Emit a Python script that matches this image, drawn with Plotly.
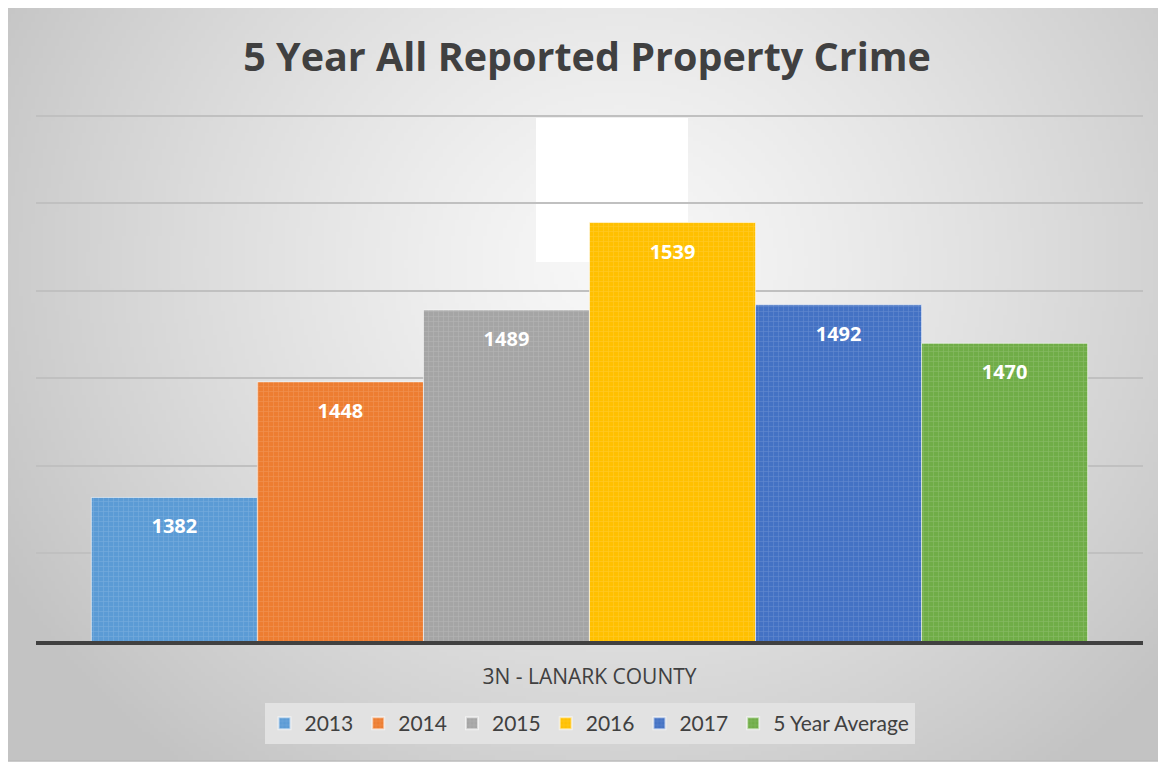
import base64
import struct
import zlib

import numpy as np
import plotly.graph_objects as go

# ---------------- data ----------------
category = ["3N - LANARK COUNTY"]
series_names = ["2013", "2014", "2015", "2016", "2017", "5 Year Average"]
series_values = [1382, 1448, 1489, 1539, 1492, 1470]
series_colors = ["#5B9BD5", "#ED7D31", "#A5A5A5", "#FFC000", "#4472C4", "#70AD47"]
title_text = "5 Year All Reported Property Crime"
y_range = [1300, 1601]
y_dtick = 50


# ---------------- background gradient image (style only) ----------------
def gradient_png(w, h):
    X = np.linspace(0, 1166, w)[None, :]
    Y = np.linspace(0, 763, h)[:, None]
    dx = (X - 620) / 720.0
    dy = (Y - 260) / 660.0
    d = np.clip(np.sqrt(dx ** 2 + dy ** 2), 0, 1)
    v = 248 - (248 - 195) * d ** 1.25
    v = np.clip(v, 0, 255).astype(np.uint8)
    rgb = np.stack([v, v, v], axis=-1)
    raw = b"".join(b"\x00" + rgb[r].tobytes() for r in range(h))

    def chunk(tag, data):
        c = struct.pack(">I", len(data)) + tag + data
        return c + struct.pack(">I", zlib.crc32(tag + data) & 0xFFFFFFFF)

    png = b"\x89PNG\r\n\x1a\n"
    png += chunk(b"IHDR", struct.pack(">IIBBBBB", w, h, 8, 2, 0, 0, 0))
    png += chunk(b"IDAT", zlib.compress(raw, 9))
    png += chunk(b"IEND", b"")
    return "data:image/png;base64," + base64.b64encode(png).decode()


fig = go.Figure()
for name, val, col in zip(series_names, series_values, series_colors):
    fig.add_trace(
        go.Bar(
            name=name,
            x=category,
            y=[val],
            marker=dict(
                color=col,
                line=dict(color="rgba(255,255,255,0.55)", width=1),
                pattern=dict(
                    shape="+",
                    size=5,
                    solidity=0.25,
                    fgcolor="rgba(255,255,255,0.3)",
                    fillmode="overlay",
                ),
            ),
            text=[val],
            texttemplate="<span style='font-size:7px;color:rgba(0,0,0,0)'>.</span><br>%{text}",
            textposition="inside",
            insidetextanchor="end",
            textangle=0,
            insidetextfont=dict(family="Open Sans", size=20, color="white", weight="bold"),
            hoverinfo="name+y",
        )
    )

# page body has an 8px margin: figure coords = reference coords - 8
OFF = 8
W, H = 1166 - OFF, 763 - OFF
# plot area in reference pixels
PX0, PX1, PY0, PY1 = 36, 1143, 114, 641
L, T = PX0 - OFF, PY0 - OFF
R = W - (PX1 - OFF)
B = H - (PY1 - OFF)
pw, ph = PX1 - PX0, PY1 - PY0


def px_x(x):
    return (x - PX0) / pw


def px_y(y):
    return (PY1 - y) / ph


fig.update_layout(
    width=W,
    height=H,
    margin=dict(l=L, r=R, t=T, b=B),
    paper_bgcolor="white",
    plot_bgcolor="rgba(0,0,0,0)",
    barmode="group",
    bargap=0.1,
    bargroupgap=0,
    title=dict(
        text=title_text,
        x=0.5,
        xanchor="center",
        xref="container",
        y=1 - (57 - OFF) / H,
        yref="container",
        yanchor="middle",
        font=dict(family="Open Sans", size=39.5, color="#404040", weight="bold"),
    ),
    xaxis=dict(
        showgrid=False,
        showline=True,
        linecolor="#404040",
        linewidth=4,
        ticks="outside",
        ticklen=14,
        tickcolor="rgba(0,0,0,0)",
        tickfont=dict(family="Open Sans", size=21, color="#404040"),
        zeroline=False,
    ),
    yaxis=dict(
        range=y_range,
        dtick=y_dtick,
        tick0=1300,
        showgrid=True,
        gridcolor="#c0c0c0",
        gridwidth=2,
        showticklabels=False,
        zeroline=False,
        showline=False,
    ),
    legend=dict(
        orientation="h",
        x=0.5,
        xanchor="center",
        y=px_y(703),
        yanchor="top",
        bgcolor="#e2e2e2",
        font=dict(family="Lato", size=21, color="#404040"),
        itemsizing="constant",
        traceorder="normal",
    ),
    images=[
        dict(
            source=gradient_png(292, 191),
            xref="paper",
            yref="paper",
            x=px_x(5),
            y=px_y(4),
            sizex=px_x(1163) - px_x(5),
            sizey=px_y(4) - px_y(761),
            xanchor="left",
            yanchor="top",
            sizing="stretch",
            layer="below",
        )
    ],
    shapes=[
        dict(
            type="rect",
            xref="paper",
            yref="paper",
            x0=px_x(536),
            x1=px_x(688),
            y0=px_y(262),
            y1=px_y(118),
            fillcolor="white",
            line=dict(width=0),
            layer="below",
        ),
        dict(
            type="rect",
            xref="paper",
            yref="paper",
            x0=px_x(5),
            x1=px_x(1163),
            y0=px_y(761),
            y1=px_y(4),
            fillcolor="rgba(0,0,0,0)",
            line=dict(color="#bcbcbc", width=1.5),
            layer="above",
        ),
    ],
)

fig.write_html("out.html")
